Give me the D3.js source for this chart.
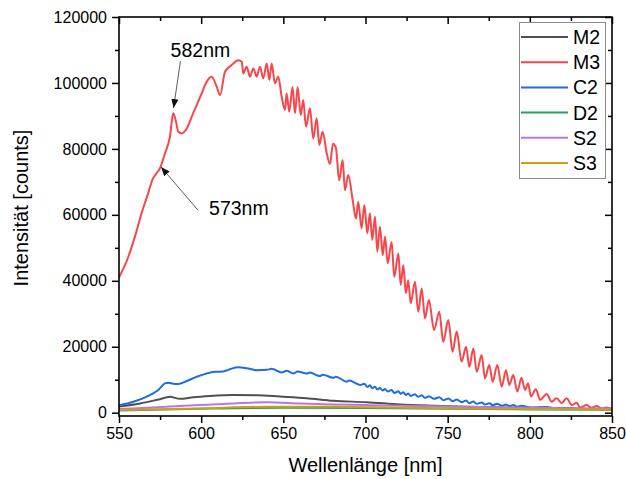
<!DOCTYPE html>
<html>
<head>
<meta charset="utf-8">
<script src="https://cdnjs.cloudflare.com/ajax/libs/d3/7.8.5/d3.min.js"></script>
<style>
  body { margin: 0; background: #fff; }
  svg { font-family: Arial, "Liberation Sans", sans-serif; }
</style>
</head>
<body>
<div id="chart"></div>
<script>
// series names and colours, in legend order
var names = ["M2", "M3", "C2", "D2", "S2", "S3"];
var colors = ["#505050", "#f8474a", "#1f6be2", "#25a35e", "#b877e6", "#cf9e12"];

// M2
var m2Wl = [550, 562.8, 573.9, 581, 587.1, 595.2, 605.4, 619.6, 633.8, 648, 664.2, 680.4, 700.7, 721, 741.3, 761.6, 792, 822.4, 850];
var m2Val = [1900, 2800, 4000, 4800, 4200, 4700, 5100, 5400, 5300, 4900, 4400, 3600, 3200, 2500, 2100, 1800, 1500, 1300, 1100];

// M3 (peaks and troughs of the fringes)
var m3Wl = [550, 555.7, 559.7, 563.8, 567.8, 570.3, 572.9, 574.9, 578, 581, 583, 584.5, 586.1, 588.2, 591.2, 594.2, 597.3, 600.3,
  603.4, 606.4, 609.5, 611.5, 614.5, 617.5, 619.6, 622.6, 624.7, 625.6, 627.7, 629.7, 631.7, 633.8, 635.8, 637.8, 639.9, 641.5,
  642.9, 644.9, 646.9, 649, 651, 652, 653.6, 655.6, 657.1, 658.7, 660.6, 662.1, 663.8, 666.2, 668.2, 670.3, 671.9, 673.9, 676.4,
  678.4, 680.2, 682, 684, 686.1, 687.5, 689.5, 692.2, 694.2, 695.6, 697.6, 699.3, 701.1, 702.7, 704.1, 705.8, 707.2, 708.8, 710.5,
  711.9, 713.5, 715.9, 717.5, 720, 721.4, 723, 724.6, 726, 727.5, 730.1, 732.1, 734.2, 736.2, 738.6, 741.7, 744.9, 747.3, 750.4,
  753, 755.5, 758.5, 761.2, 763.2, 765.6, 767.7, 770.7, 772.7, 775.3, 777.4, 780.2, 782.9, 785.5, 787.5, 789.9, 792.4, 794.9,
  797.1, 798.9, 800.7, 803.7, 806.2, 810.3, 813.3, 816.3, 819.4, 822.4, 825.5, 828.5, 830.5, 834.6, 837.6, 840.7, 843.7, 846.8, 850];
var m3Val = [41000, 47300, 53400, 60600, 66600, 70600, 72600, 74100, 78700, 83700, 90800, 88700, 85200, 84700, 86200, 89700, 93300, 96800,
  100400, 101900, 98800, 96300, 103400, 105000, 105900, 106900, 106400, 102900, 104900, 101900, 104400, 101900, 104900, 101400, 105900, 100900,
  105900, 99900, 101900, 95800, 91800, 96800, 91300, 98800, 90800, 98800, 90300, 94800, 86700, 92300, 83200, 89300, 81200, 85200, 78700,
  75400, 81600, 80300, 70500, 76600, 67500, 72100, 64500, 58900, 64000, 55900, 63000, 54400, 60500, 52400, 59400, 48800, 56400, 47800,
  53400, 45300, 51800, 41200, 48300, 38700, 44800, 36200, 40200, 33200, 39700, 30600, 37700, 28600, 34200, 25100, 30600, 21500, 28100,
  18500, 24600, 15500, 20000, 13900, 19500, 12400, 17500, 10400, 14500, 9400, 14500, 7900, 12900, 8400, 11400, 6400, 10600,
  6900, 8900, 4900, 7100, 3900, 5700, 3300, 4400, 2900, 4400, 2300, 3000, 1600, 2300, 1500, 2000, 1300, 1600, 1100];

// C2
var c2Wl = [550, 558.7, 566.9, 573.9, 578, 580, 583, 586.1, 591.2, 597.3, 603.4, 608.4, 613.5, 617.5, 622.6, 627.7, 633.8, 639.9,
  642.9, 649, 652, 656.1, 658.7, 664.2, 666.2, 672.3, 674, 680.4, 682, 688.6, 690, 696.7, 699.3, 701.1, 702.7, 704.1, 705.8, 707.2,
  708.8, 710.5, 711.9, 713.5, 715.9, 717.5, 720, 721.4, 723, 724.6, 726, 727.5, 730.1, 732.1, 734.2, 736.2, 738.6, 741.7, 744.9,
  747.3, 750.4, 753, 755.5, 758.5, 761.2, 763.2, 765.6, 767.7, 770.7, 772.7, 775.3, 777.4, 780.2, 782.9, 785.5, 787.5, 789.9,
  792.4, 795, 800.7, 810.3, 816.3, 822.4, 830, 840, 850];
var c2Val = [2200, 3300, 4900, 6900, 8900, 9100, 8800, 8700, 9600, 10900, 11900, 12400, 12500, 13200, 13800, 13500, 12900, 13000,
  13300, 12200, 12700, 11900, 12500, 11900, 12200, 11100, 11500, 10600, 10900, 9400, 9800, 8400, 8800, 7800, 8300, 7400, 7900, 7000,
  7500, 6700, 7200, 6400, 6900, 6000, 6500, 5700, 6200, 5400, 5800, 5100, 5600, 4800, 5300, 4500, 5000, 4200, 4700,
  3800, 4300, 3500, 4000, 3200, 3700, 2900, 3400, 2700, 3100, 2500, 2900, 2300, 2700, 2100, 2500, 2000, 2300,
  1800, 2100, 1600, 1700, 1300, 1400, 1100, 1100, 1000];

// D2
var d2Wl = [550, 599, 650, 700, 750, 800, 850];
var d2Val = [700, 1200, 1500, 1400, 1200, 1000, 900];

// S2
var s2Wl = [550, 578.6, 599, 619.6, 640, 660.4, 680.4, 700.7, 731.2, 761.6, 802.2, 842.7, 850];
var s2Val = [1100, 1800, 2300, 2800, 3200, 2800, 2500, 2300, 2000, 1800, 1500, 1300, 1300];

// S3
var s3Wl = [550, 599, 639.9, 680.4, 721, 761.6, 802.2, 850];
var s3Val = [800, 1300, 1800, 1800, 1500, 1300, 1100, 1000];

var seriesWl = [m2Wl, m3Wl, c2Wl, d2Wl, s2Wl, s3Wl];
var seriesVal = [m2Val, m3Val, c2Val, d2Val, s2Val, s3Val];

// axis ticks
var xTicks = [550, 600, 650, 700, 750, 800, 850];
var yTicks = [0, 20000, 40000, 60000, 80000, 100000, 120000];

// annotations: label position and arrow (from -> tip)
var notes = ["582nm", "573nm"];
var noteX = [581.4, 604.8];
var noteY = [107800, 59900];
var arrowFrom = [[587.4, 106600], [598.1, 61400]];
var arrowTo = [[583.2, 92400], [575.6, 74500]];

var width = 626, height = 479;
var plotL = 119, plotR = 612, plotT = 17, plotB = 416;

var svg = d3.select("#chart").append("svg")
  .attr("width", width)
  .attr("height", height);

var x = d3.scaleLinear().domain([550, 850]).range([plotL, plotR]);
var y = d3.scaleLinear().domain([-1000, 120000]).range([plotB, plotT]);

var defs = svg.append("defs");
defs.append("clipPath").attr("id", "clip")
  .append("rect")
  .attr("x", plotL).attr("y", plotT)
  .attr("width", plotR - plotL).attr("height", plotB - plotT);

defs.append("marker")
  .attr("id", "head")
  .attr("viewBox", "0 0 10 10")
  .attr("refX", 10).attr("refY", 5)
  .attr("markerWidth", 9).attr("markerHeight", 9)
  .attr("markerUnits", "userSpaceOnUse")
  .attr("orient", "auto")
  .append("path")
  .attr("d", "M0,1L10,5L0,9Z")
  .attr("fill", "#111");

// lines (monotone curve rounds the fringe peaks a bit)
var line = d3.line()
  .curve(d3.curveMonotoneX)
  .x(function(d) { return x(d[0]); })
  .y(function(d) { return y(d[1]); });

var lineGroup = svg.append("g").attr("clip-path", "url(#clip)");
for (let i = 0; i < names.length; i++) {
  var pts = seriesWl[i].map(function(w, j) { return [w, seriesVal[i][j]]; });
  lineGroup.append("path")
    .attr("d", line(pts))
    .attr("fill", "none")
    .attr("stroke", colors[i])
    .attr("stroke-width", 2)
    .attr("stroke-linejoin", "round");
}

// axes
var xMinor = d3.range(575, 850, 50);
var yMinor = d3.range(10000, 120000, 20000);

function styleAxis(g) {
  g.select(".domain").remove();
  g.selectAll("line").attr("stroke", "#000").attr("stroke-width", 1.5);
  g.selectAll("text").attr("fill", "#000").attr("font-size", 16);
}

svg.append("g").attr("transform", "translate(0," + plotB + ")")
  .call(d3.axisBottom(x).tickValues(xTicks).tickSize(7).tickPadding(5).tickFormat(d3.format("d")))
  .call(styleAxis);
svg.append("g").attr("transform", "translate(0," + plotB + ")")
  .call(d3.axisBottom(x).tickValues(xMinor).tickSize(4).tickFormat(""))
  .call(styleAxis);
svg.append("g").attr("transform", "translate(0," + plotT + ")")
  .call(d3.axisBottom(x).tickValues(xTicks).tickSize(7).tickFormat(""))
  .call(styleAxis);
svg.append("g").attr("transform", "translate(0," + plotT + ")")
  .call(d3.axisBottom(x).tickValues(xMinor).tickSize(4).tickFormat(""))
  .call(styleAxis);

svg.append("g").attr("transform", "translate(" + plotL + ",0)")
  .call(d3.axisLeft(y).tickValues(yTicks).tickSize(7).tickPadding(5).tickFormat(d3.format("d")))
  .call(styleAxis);
svg.append("g").attr("transform", "translate(" + plotL + ",0)")
  .call(d3.axisLeft(y).tickValues(yMinor).tickSize(4).tickFormat(""))
  .call(styleAxis);
svg.append("g").attr("transform", "translate(" + plotR + ",0)")
  .call(d3.axisLeft(y).tickValues(yTicks).tickSize(7).tickFormat(""))
  .call(styleAxis);
svg.append("g").attr("transform", "translate(" + plotR + ",0)")
  .call(d3.axisLeft(y).tickValues(yMinor).tickSize(4).tickFormat(""))
  .call(styleAxis);

// frame
svg.append("rect")
  .attr("x", plotL).attr("y", plotT)
  .attr("width", plotR - plotL).attr("height", plotB - plotT)
  .attr("fill", "none")
  .attr("stroke", "#000")
  .attr("stroke-width", 1.6);

// axis titles
svg.append("text")
  .attr("x", (plotL + plotR) / 2).attr("y", 472)
  .attr("text-anchor", "middle")
  .attr("font-size", 20)
  .text("Wellenlänge [nm]");
svg.append("text")
  .attr("transform", "translate(28,208) rotate(-90)")
  .attr("text-anchor", "middle")
  .attr("font-size", 20)
  .text("Intensität [counts]");

// annotations
for (let i = 0; i < notes.length; i++) {
  svg.append("line")
    .attr("x1", x(arrowFrom[i][0])).attr("y1", y(arrowFrom[i][1]))
    .attr("x2", x(arrowTo[i][0])).attr("y2", y(arrowTo[i][1]))
    .attr("stroke", "#333")
    .attr("stroke-width", 0.8)
    .attr("marker-end", "url(#head)");
  svg.append("text")
    .attr("x", x(noteX[i])).attr("y", y(noteY[i]))
    .attr("font-size", 19.5)
    .text(notes[i]);
}

// legend
var legend = svg.append("g");
legend.append("rect")
  .attr("x", 519.5).attr("y", 22.5)
  .attr("width", 86).attr("height", 156)
  .attr("fill", "#fff")
  .attr("stroke", "#8a8a8a")
  .attr("stroke-width", 1);
names.forEach(function(n, i) {
  var ly = 37 + i * 25.2;
  legend.append("line")
    .attr("x1", 521).attr("x2", 568)
    .attr("y1", ly).attr("y2", ly)
    .attr("stroke", colors[i])
    .attr("stroke-width", 2);
  legend.append("text")
    .attr("x", 573).attr("y", ly + 7)
    .attr("font-size", 19.5)
    .text(n);
});
</script>
</body>
</html>
